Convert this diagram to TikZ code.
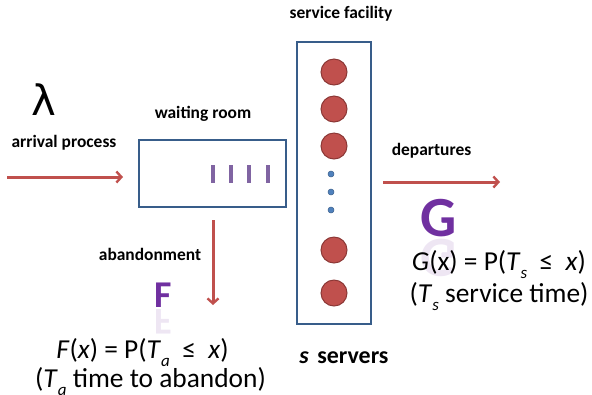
\documentclass[tikz,border=0pt]{standalone}
\usepackage{fontspec}
\setmainfont{Carlito}
\newfontfamily\greekfont{DejaVu Sans}
\usetikzlibrary{arrows.meta}
\definecolor{flowred}{HTML}{C0504D}
\definecolor{srvred}{HTML}{C0504D}
\definecolor{srvedge}{HTML}{8C3836}
\definecolor{frameblue}{HTML}{385D8A}
\definecolor{dotblue}{HTML}{4F81BD}
\definecolor{barpurple}{HTML}{8064A2}
\definecolor{letterpurple}{HTML}{7030A0}
\tikzset{
  flow/.style={draw=flowred, line width=3bp, -{Straight Barb[length=5pt,width=11pt,line width=2.4pt]}},
  frame/.style={draw=frameblue, line width=1.4pt},
  server/.style={circle, fill=srvred, draw=srvedge, line width=1pt, minimum size=26bp, inner sep=0pt},
  ellip/.style={circle, fill=dotblue, draw=frameblue, line width=0.5pt, minimum size=6bp, inner sep=0pt},
  lbl/.style={font=\fontsize{17.5}{20}\selectfont\bfseries, inner sep=0pt, anchor=base},
  formula/.style={font=\fontsize{27.5}{32}\selectfont, inner sep=0pt, anchor=base},
  biglet/.style={text=letterpurple, inner sep=0pt, anchor=base},
  mirror/.style={biglet, yscale=-1, opacity=0.12},
  bar/.style={draw=barpurple, line width=3.6bp}
}
\newcommand{\subsc}[1]{\raisebox{-0.3em}{\fontsize{17}{19}\selectfont\itshape #1}}
\begin{document}
\begin{tikzpicture}[x=1bp,y=-1bp]
\useasboundingbox (0,0) rectangle (592,394);

% waiting room
\node[frame, draw, minimum width=147bp, minimum height=67bp, inner sep=0pt] (wait) at (212.5,173.5) {};
\node[lbl] (waitlbl) at (203,118) {waiting room};
\foreach \i/\x in {1/213,2/231,3/249,4/268}{
  \coordinate (bt\i) at (\x,165);
  \coordinate (bb\i) at (\x,183);
  \draw[bar] (bt\i) -- (bb\i);
}

% service facility
\node[frame, draw, minimum width=74bp, minimum height=282bp, inner sep=0pt] (fac) at (334,183) {};
\node[lbl] (faclbl) at (341,18) {service facility};
\node[server] (s1) at (334,72) {};
\node[server] (s2) at (334,109) {};
\node[server] (s3) at (334,146) {};
\node[server] (s4) at (334,250) {};
\node[server] (s5) at (334,293) {};
\node[ellip] (d1) at (331,174) {};
\node[ellip] (d2) at (331,192) {};
\node[ellip] (d3) at (331,210) {};
\node[inner sep=0pt, anchor=base, font=\fontsize{24}{28}\selectfont\bfseries] (srv) at (344,363) {\textit{s}\hspace{0.35em}servers};

% arrivals
\coordinate (arrin) at (7,177);
\coordinate (arrend) at (123,177);
\draw[flow] (arrin) -- (arrend);
\node[lbl] (arrlbl) at (64,147) {arrival process};
\node[inner sep=0pt, font=\greekfont\fontsize{42}{44}\selectfont] (lam) at (44,100) {λ};

% departures
\coordinate (depst) at (383,182);
\coordinate (depend) at (500,182);
\draw[flow] (depst) -- (depend);
\node[lbl] (deplbl) at (431.5,155) {departures};

% abandonment
\coordinate (abst) at (213,220);
\coordinate (abend) at (213,305);
\draw[flow] (abst) -- (abend);
\node[lbl] (ablbl) at (150,260) {abandonment};

% distribution letters with their reflections
\node[biglet, font=\fontsize{38}{40}\selectfont\bfseries] (Fl) at (163,307) {F};
\node[mirror, font=\fontsize{38}{40}\selectfont\bfseries] (Flr) at (163,309) {F};
\node[biglet, font=\fontsize{57}{60}\selectfont\bfseries] (Gl) at (439,236) {G};
\node[mirror, font=\fontsize{57}{60}\selectfont\bfseries] (Glr) at (439,239) {G};

% formulas
\node[formula] (Geq) at (499,270) {\textit{G}(x) = P(\textit{T}\subsc{s}\ \ ≤\ \ \textit{x})};
\node[formula] (Gtxt) at (499,302) {(\textit{T}\subsc{s} service time)};
\node[formula] (Feq) at (142.5,358) {\textit{F}(\textit{x}) = P(\textit{T}\subsc{a}\ \ ≤\ \ \textit{x})};
\node[formula] (Ftxt) at (150.5,387) {(\textit{T}\subsc{a} time to abandon)};
\end{tikzpicture}
\end{document}
